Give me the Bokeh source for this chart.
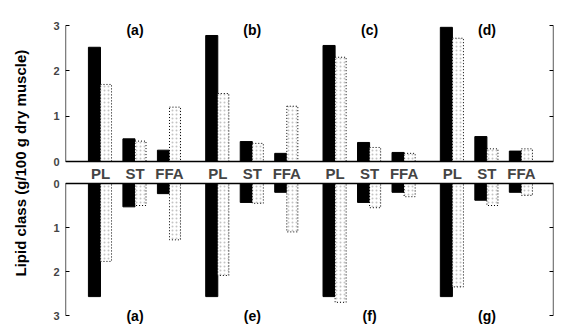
import math
from bokeh.plotting import figure
from bokeh.models import Range1d, LinearAxis, FixedTicker, ColumnDataSource
from bokeh.layouts import row
from bokeh.core.properties import value
from bokeh.embed import file_html
from bokeh.resources import INLINE

# ---------------- data ----------------
categories = ["PL", "ST", "FFA"]
top_panels = ["(a)", "(b)", "(c)", "(d)"]
bottom_panels = ["(a)", "(e)", "(f)", "(g)"]

top_black = [[2.52, 0.50, 0.25], [2.78, 0.44, 0.18], [2.56, 0.42, 0.20], [2.96, 0.55, 0.23]]
top_dotted = [[1.70, 0.45, 1.20], [1.50, 0.40, 1.22], [2.30, 0.31, 0.18], [2.72, 0.28, 0.28]]
bottom_black = [[2.57, 0.53, 0.23], [2.57, 0.43, 0.20], [2.57, 0.43, 0.20], [2.57, 0.38, 0.20]]
bottom_dotted = [[1.77, 0.50, 1.28], [2.09, 0.45, 1.10], [2.70, 0.55, 0.30], [2.35, 0.50, 0.27]]

y_ticks = [0, 1, 2, 3]
y_tick_labels = ["0", "1", "2", "3"]
y_label = "Lipid class (g/100 g dry muscle)"

# ---------------- layout constants ----------------
PANEL_STEP = 3.4
BW = 0.35
DW = 0.32
FONT = "Liberation Sans"
X0, X1 = -1.014, 13.13
TOP_LO, TOP_HI = -3.684, 3.221       # default (upper block) range
BOT_START, BOT_END = 3.295, -3.818   # flipped range for lower block

centers = [i * PANEL_STEP + j for i in range(4) for j in range(3)]
cat_labels = [categories[j] for i in range(4) for j in range(3)]
st_centers = [i * PANEL_STEP + 1 for i in range(4)]


def flat(v):
    return [x for r in v for x in r]


def bot_to_default(v):
    frac = (v - BOT_END) / (BOT_START - BOT_END)
    return TOP_HI - frac * (TOP_HI - TOP_LO)


def line_axis(range_name, fixed):
    return LinearAxis(y_range_name=range_name, fixed_location=fixed, bounds=(0, 3),
                      ticker=FixedTicker(ticks=y_ticks),
                      major_tick_in=4, major_tick_out=0, minor_tick_line_color=None,
                      axis_line_width=1.3, major_tick_line_width=1.2,
                      major_label_overrides={t: "" for t in y_ticks},
                      major_label_text_color=None, major_label_text_alpha=0,
                      major_label_standoff=0)


# ---------------- main figure ----------------
p = figure(width=530, height=335, x_range=Range1d(X0, X1), y_range=Range1d(TOP_LO, TOP_HI),
           output_backend="svg", toolbar_location=None,
           x_axis_location=None, y_axis_location=None,
           min_border_left=27, min_border_right=15, min_border_top=15, min_border_bottom=7)
p.extra_y_ranges = {"bot": Range1d(start=BOT_START, end=BOT_END)}
p.grid.visible = False
p.outline_line_color = None

# tick labels for both blocks on one left axis
lab_ticks = list(y_ticks) + [bot_to_default(t) for t in y_ticks]
lab_text = y_tick_labels + y_tick_labels
left_labels = LinearAxis(ticker=FixedTicker(ticks=lab_ticks),
                         major_label_overrides={t: s for t, s in zip(lab_ticks, lab_text)},
                         axis_line_color=None, major_tick_line_color=None,
                         minor_tick_line_color=None, major_tick_out=0, major_tick_in=0,
                         major_label_standoff=6, major_label_text_font=FONT,
                         major_label_text_font_style="bold", major_label_text_font_size="11px")
p.add_layout(left_labels, "left")

# axis lines with inward ticks, broken between the two blocks
p.add_layout(line_axis("default", X0), "left")
p.add_layout(line_axis("bot", X0), "left")
p.add_layout(line_axis("default", X1), "right")
p.add_layout(line_axis("bot", X1), "right")

# zero lines with category labels between them
cat_axis = LinearAxis(y_range_name="default", fixed_location=0, ticker=FixedTicker(ticks=centers),
                      major_label_overrides={c: l for c, l in zip(centers, cat_labels)},
                      major_tick_in=0, major_tick_out=0, minor_tick_line_color=None,
                      major_label_standoff=3, major_label_text_font=FONT,
                      major_label_text_font_style="bold", major_label_text_font_size="15px",
                      axis_line_width=1.3)
p.add_layout(cat_axis, "below")
zero_bot = LinearAxis(y_range_name="bot", fixed_location=0, ticker=FixedTicker(ticks=[]),
                      major_tick_in=0, major_tick_out=0, minor_tick_line_color=None,
                      axis_line_width=1.3)
p.add_layout(zero_bot, "above")

# bars
sb = ColumnDataSource(dict(x=[c - BW / 2 for c in centers], top=flat(top_black)))
sd = ColumnDataSource(dict(x=[c + DW / 2 for c in centers], top=flat(top_dotted)))
sb2 = ColumnDataSource(dict(x=[c - BW / 2 for c in centers], top=flat(bottom_black)))
sd2 = ColumnDataSource(dict(x=[c + DW / 2 for c in centers], top=flat(bottom_dotted)))

dotted_style = dict(fill_color="white", hatch_pattern="dot", hatch_scale=4, hatch_color="#888888",
                    hatch_alpha=0.5, line_color="black", line_dash="1 2", line_width=1)

p.vbar(x="x", top="top", bottom=0, width=BW, source=sb, fill_color="black", line_color="black")
p.vbar(x="x", top="top", bottom=0, width=DW, source=sd, **dotted_style)
p.vbar(x="x", top="top", bottom=0, width=BW, source=sb2, fill_color="black", line_color="black",
       y_range_name="bot")
p.vbar(x="x", top="top", bottom=0, width=DW, source=sd2, y_range_name="bot", **dotted_style)

label_style = dict(text_align="center", text_baseline="middle", text_font=value(FONT),
                   text_font_style="bold", text_font_size="14px", text_color="black")
p.text(x=st_centers, y=[2.91] * 4, text=top_panels, **label_style)
p.text(x=st_centers, y=[3.0] * 4, text=bottom_panels, y_range_name="bot", **label_style)

# ---------------- y label column ----------------
lab = figure(width=38, height=335, x_range=Range1d(0, 38), y_range=Range1d(0, 335),
             x_axis_type=None, y_axis_type=None, output_backend="svg", toolbar_location=None,
             min_border=0)
lab.grid.visible = False
lab.outline_line_color = None
lab.text(x=[20], y=[335 - 158], text=[y_label], angle=math.pi / 2, text_align="center",
         text_baseline="middle", text_font=value(FONT), text_font_style="bold",
         text_font_size="15px", text_color="black")

layout = row(lab, p)
open("out.html", "w").write(file_html(layout, INLINE))
